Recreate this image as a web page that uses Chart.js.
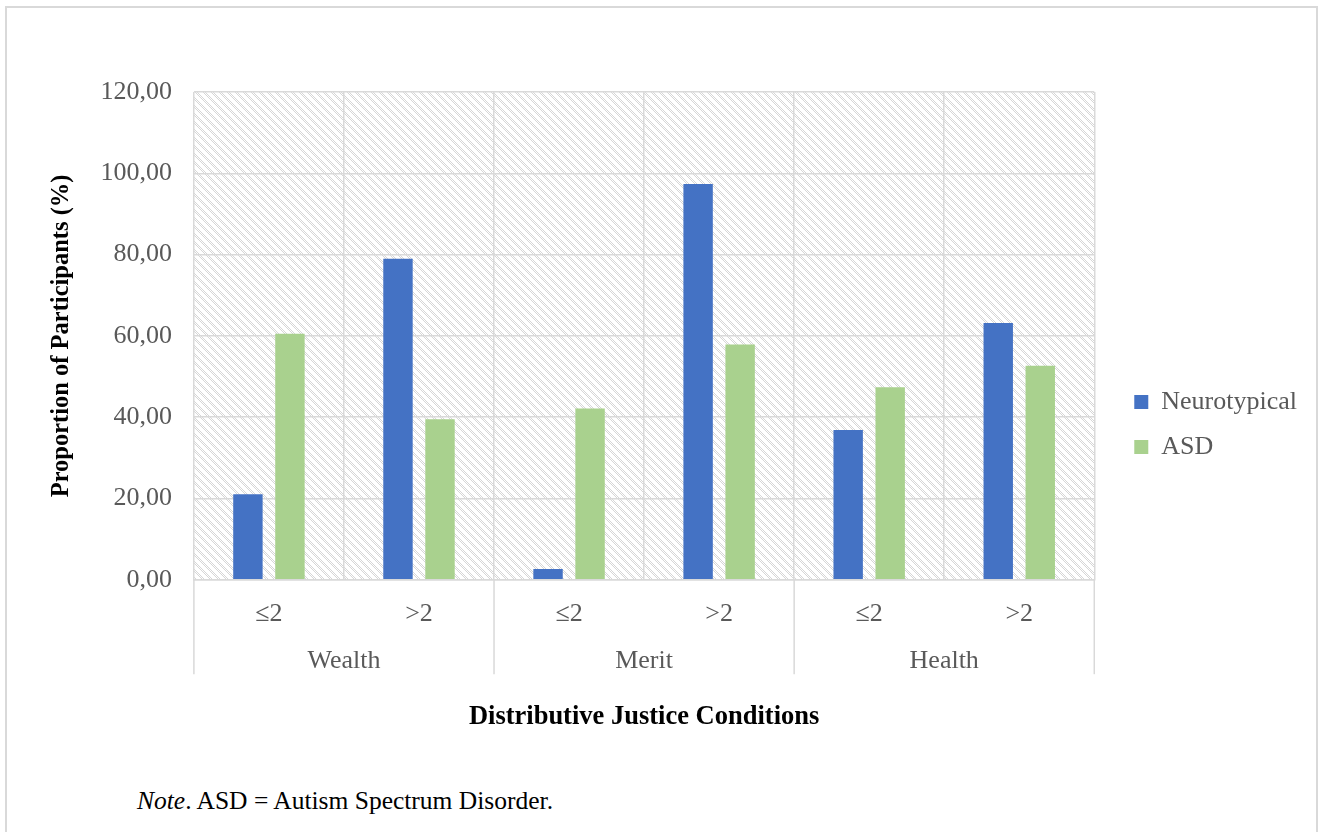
<!DOCTYPE html>
<html>
<head>
<meta charset="utf-8">
<script src="https://cdn.jsdelivr.net/npm/chart.js@4/dist/chart.umd.min.js"></script>
<style>
  html, body { margin: 0; padding: 0; background: #ffffff; }
  body { width: 1321px; height: 832px; position: relative; overflow: hidden; }
  #frame { position: absolute; left: 5px; top: 6px; width: 1313px; height: 840px;
           border: 2px solid #d9d9d9; box-sizing: border-box; }
  #wrap { position: absolute; left: 8px; top: 9px; width: 1311px; height: 748px; }
  #note { position: absolute; left: 137px; top: 788px; font-family: "Liberation Serif", serif;
          font-size: 25.5px; line-height: 1; color: #000; white-space: nowrap; }
</style>
</head>
<body>
<div id="frame"></div>
<div id="wrap"><canvas id="c" width="1311" height="748"></canvas></div>
<div id="note"><i>Note</i>. ASD = Autism Spectrum Disorder.</div>
<script>
const subCategories = ['≤2', '>2', '≤2', '>2', '≤2', '>2'];
const groups = ['Wealth', 'Merit', 'Health'];
const neurotypical = [21.05, 78.95, 2.63, 97.37, 36.84, 63.16];
const asd = [60.53, 39.47, 42.11, 57.89, 47.37, 52.63];
const seriesNames = ['Neurotypical', 'ASD'];
const yTickValues = [0, 20, 40, 60, 80, 100, 120];

const FONT = '"Liberation Serif", "Times New Roman", serif';
const GRID = '#d9d9d9';
const TEXT = '#595959';

function makePattern(ctx) {
  const p = document.createElement('canvas');
  p.width = 8; p.height = 8;
  const pc = p.getContext('2d');
  pc.fillStyle = '#ffffff';
  pc.fillRect(0, 0, 8, 8);
  pc.fillStyle = '#d6d6d6';
  for (let y = 0; y < 8; y++) {
    for (let k = 0; k < 3; k++) {
      const x = (y + k) % 8;
      if ((x + y) % 2 === 0) pc.fillRect(x, y, 1, 1);
    }
  }
  return ctx.createPattern(p, 'repeat');
}

const hatchPlugin = {
  id: 'hatch',
  beforeDraw(chart) {
    const {ctx, chartArea: a} = chart;
    ctx.save();
    ctx.fillStyle = makePattern(ctx);
    ctx.fillRect(a.left, a.top, a.right - a.left, a.bottom - a.top);
    ctx.restore();
  }
};

const groupLinesPlugin = {
  id: 'groupLines',
  afterDraw(chart) {
    const {ctx, chartArea: a} = chart;
    const x2 = chart.scales.x2;
    const t = x2.options.title;
    const titleH = Chart.helpers.toFont(t.font).lineHeight + Chart.helpers.toPadding(t.padding).height;
    const end = x2.bottom - titleH;
    const step = x2.getPixelForTick(1) - x2.getPixelForTick(0);
    ctx.save();
    ctx.strokeStyle = GRID;
    ctx.lineWidth = 1.5;
    for (let i = 0; i <= groups.length; i++) {
      const px = x2.getPixelForTick(0) - step / 2 + i * step;
      ctx.beginPath();
      ctx.moveTo(px, a.bottom);
      ctx.lineTo(px, end);
      ctx.stroke();
    }
    ctx.restore();
  }
};

new Chart(document.getElementById('c'), {
  type: 'bar',
  data: {
    labels: subCategories,
    datasets: [
      { label: seriesNames[0], data: neurotypical, backgroundColor: '#4472c4', xAxisID: 'x', yAxisID: 'y' },
      { label: seriesNames[1], data: asd, backgroundColor: '#a9d18e', xAxisID: 'x', yAxisID: 'y' }
    ]
  },
  options: {
    responsive: false,
    animation: false,
    devicePixelRatio: 1,
    categoryPercentage: 0.56,
    barPercentage: 0.7,
    layout: { padding: { left: 38, top: 83, right: 12, bottom: 0 } },
    plugins: {
      tooltip: { enabled: false },
      legend: {
        position: 'right',
        labels: {
          boxWidth: 14, boxHeight: 14, padding: 19,
          color: TEXT, font: { family: FONT, size: 26 }
        }
      }
    },
    scales: {
      x: {
        type: 'category',
        position: 'bottom',
        weight: 1,
        offset: true,
        grid: { offset: true, color: GRID, lineWidth: 1.5, drawTicks: false },
        border: { color: GRID, width: 1.5 },
        ticks: { color: TEXT, font: { family: FONT, size: 26 }, padding: 19, maxRotation: 0, autoSkip: false }
      },
      x2: {
        type: 'category',
        labels: groups,
        position: 'bottom',
        weight: 2,
        offset: true,
        grid: { display: false, drawTicks: false },
        border: { display: false },
        ticks: { color: TEXT, font: { family: FONT, size: 26 }, padding: -3, maxRotation: 0, autoSkip: false },
        title: {
          display: true, text: 'Distributive Justice Conditions', color: '#000',
          font: { family: FONT, size: 26.5, weight: 'bold' }, padding: { top: 27, bottom: 24 }
        }
      },
      y: {
        min: 0, max: 120,
        afterBuildTicks(s) { s.ticks = yTickValues.map(v => ({ value: v })); },
        grid: { color: GRID, lineWidth: 1.5, drawTicks: false },
        border: { display: false },
        ticks: {
          color: TEXT, font: { family: FONT, size: 26 }, padding: 22,
          callback: v => v.toFixed(2).replace('.', ',')
        },
        title: {
          display: true, text: 'Proportion of Participants (%)', color: '#000',
          font: { family: FONT, size: 24.5, weight: 'bold' }, padding: { top: 1, bottom: 2 }
        }
      },
      yr: {
        type: 'linear',
        position: 'right',
        grid: { display: false, drawTicks: false },
        border: { display: false },
        ticks: { display: false },
        afterFit(s) { s.width = 21; }
      }
    }
  },
  plugins: [hatchPlugin, groupLinesPlugin]
});
</script>
</body>
</html>
